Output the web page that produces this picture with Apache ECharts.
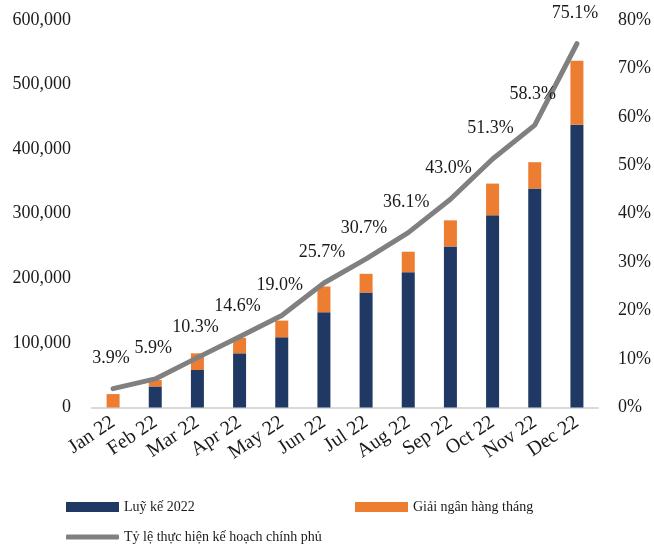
<!DOCTYPE html>
<html>
<head>
<meta charset="utf-8">
<script src="https://cdn.jsdelivr.net/npm/echarts@6/dist/echarts.min.js"></script>
<style>
  html, body { margin: 0; padding: 0; background: #fff; }
  #chart { width: 654px; height: 547px; }
</style>
</head>
<body>
<div id="chart"></div>
<script>
const months = ['Jan 22', 'Feb 22', 'Mar 22', 'Apr 22', 'May 22', 'Jun 22',
  'Jul 22', 'Aug 22', 'Sep 22', 'Oct 22', 'Nov 22', 'Dec 22']
// luỹ kế (navy) and monthly disbursement (orange), stacked
const luyKe = [0, 32600, 58100, 83900, 108700, 147500, 178000, 209600, 249400, 297500, 339000, 437900]
const giaiNgan = [20800, 9900, 25800, 23900, 25900, 39900, 29000, 31600, 40400, 49200, 40800, 98900]
// tỷ lệ thực hiện (%)
const tyLe = [3.9, 5.9, 10.3, 14.6, 19.0, 25.7, 30.7, 36.1, 43.0, 51.3, 58.3, 75.1]
const leftTicks = [0, 100000, 600000]
const rightTicks = [0, 10, 80]

const font = 'Liberation Serif'
const txt = '#1a1a1a'
const navy = '#203864'
const orange = '#ED7D31'
const gray = '#808080'

const legendText = { fontFamily: font, fontSize: 14, color: txt }

const chart = echarts.init(document.getElementById('chart'))
chart.setOption({
  animation: false,
  backgroundColor: '#fff',
  textStyle: { fontFamily: font },
  grid: { left: 92, right: 54, top: 20, bottom: 139.5 },
  legend: [
    {
      left: 66, top: 500, padding: 0, itemWidth: 53, itemHeight: 10,
      data: [{ name: 'Luỹ kế 2022', icon: 'rect' }],
      textStyle: legendText
    },
    {
      left: 355, top: 500, padding: 0, itemWidth: 53, itemHeight: 10,
      data: [{ name: 'Giải ngân hàng tháng', icon: 'rect' }],
      textStyle: legendText
    },
    {
      left: 66, top: 530, padding: 0, itemWidth: 53, itemHeight: 5,
      data: [{ name: 'Tỷ lệ thực hiện kế hoạch chính phủ', icon: 'roundRect', itemStyle: { color: gray } }],
      textStyle: legendText
    }
  ],
  xAxis: {
    type: 'category',
    data: months,
    axisLine: { lineStyle: { color: '#d9d9d9', width: 2 } },
    axisTick: { show: false },
    axisLabel: { rotate: 34, margin: 13, fontSize: 20, color: txt, fontFamily: font, interval: 0 }
  },
  yAxis: [
    {
      type: 'value',
      min: leftTicks[0], max: leftTicks[2], interval: leftTicks[1],
      splitLine: { show: false },
      axisLine: { show: false },
      axisTick: { show: false },
      axisLabel: {
        margin: 21, fontSize: 18, color: txt, fontFamily: font,
        formatter: v => v.toLocaleString('en-US')
      }
    },
    {
      type: 'value',
      min: rightTicks[0], max: rightTicks[2], interval: rightTicks[1],
      splitLine: { show: false },
      axisLine: { show: false },
      axisTick: { show: false },
      axisLabel: {
        margin: 20, fontSize: 18, color: txt, fontFamily: font,
        formatter: '{value}%'
      }
    }
  ],
  series: [
    {
      name: 'Luỹ kế 2022',
      type: 'bar',
      stack: 'total',
      barWidth: 13,
      itemStyle: { color: navy },
      data: luyKe
    },
    {
      name: 'Giải ngân hàng tháng',
      type: 'bar',
      stack: 'total',
      barWidth: 13,
      itemStyle: { color: orange },
      data: giaiNgan
    },
    {
      name: 'Tỷ lệ thực hiện kế hoạch chính phủ',
      type: 'line',
      yAxisIndex: 1,
      symbol: 'circle',
      symbolSize: 1,
      showSymbol: true,
      z: 5,
      lineStyle: { color: gray, width: 5, cap: 'round', join: 'round' },
      itemStyle: { color: gray },
      label: {
        show: true,
        position: 'top',
        distance: 21,
        offset: [-2, 0],
        fontSize: 18,
        color: txt,
        fontFamily: font,
        formatter: p => p.value.toFixed(1) + '%'
      },
      data: tyLe
    }
  ]
})
</script>
</body>
</html>
